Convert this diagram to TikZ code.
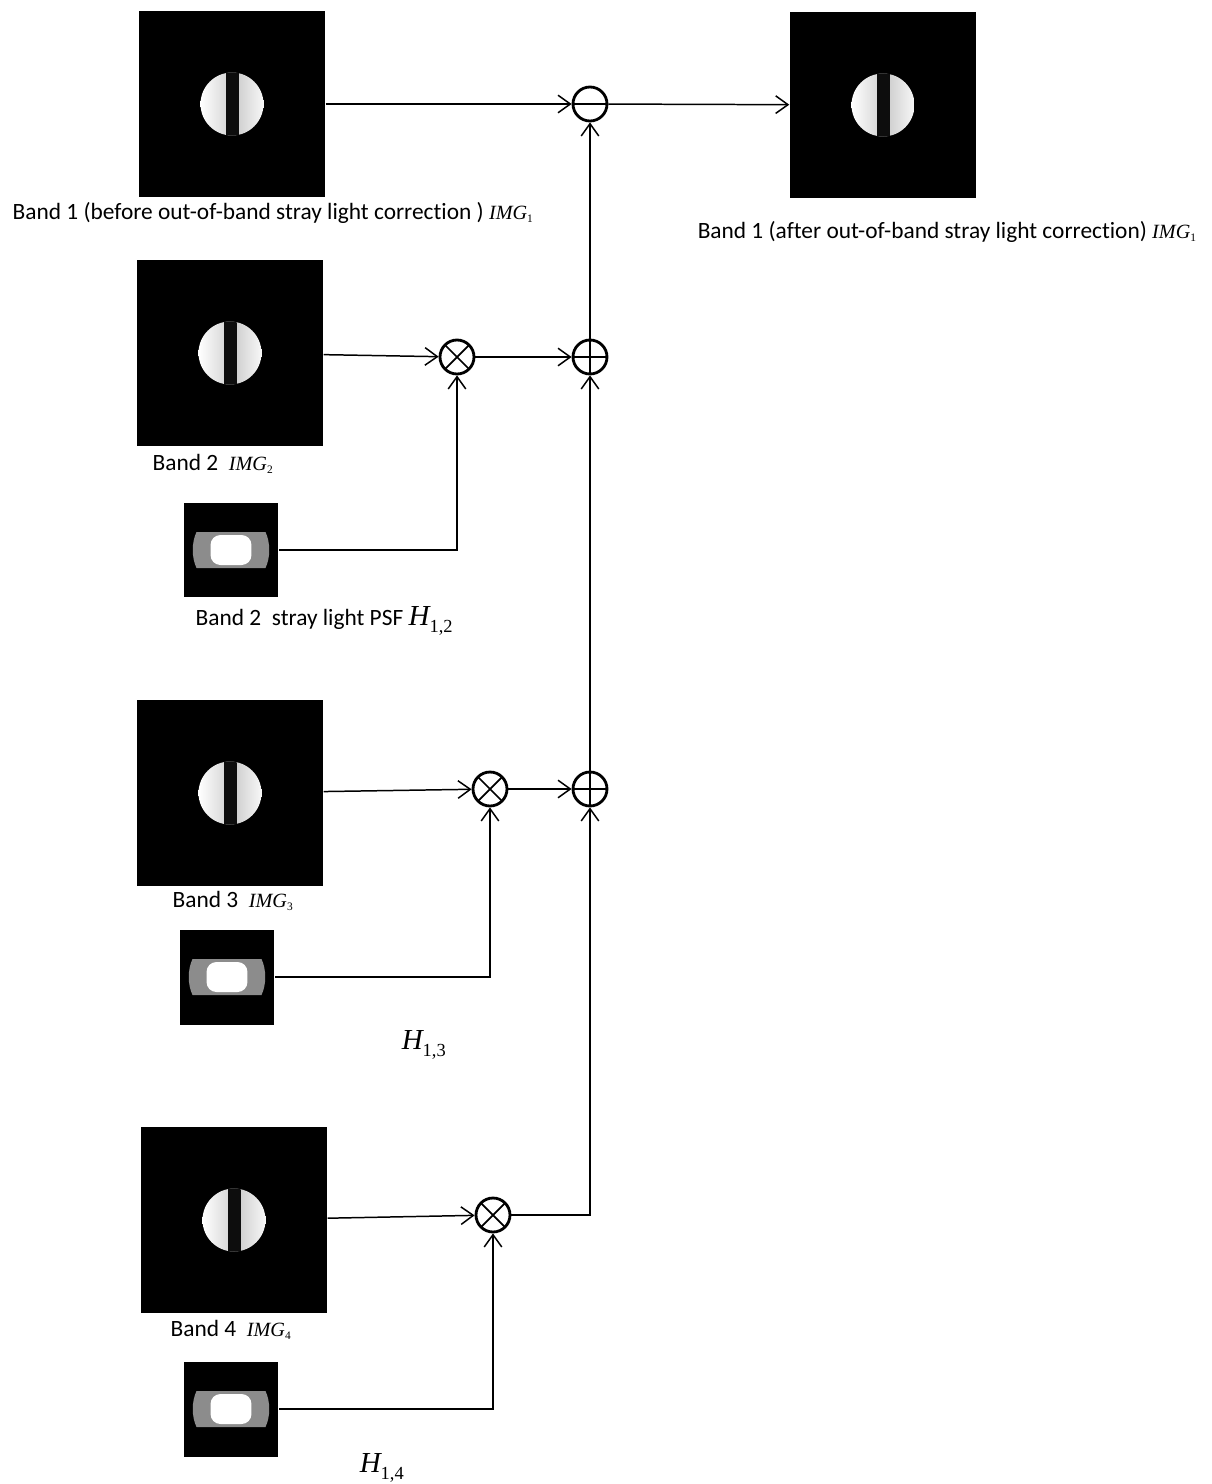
\documentclass[tikz,border=0pt]{standalone}
\usepackage{fontspec}
\setmainfont{Carlito}[Ligatures=NoCommon]
\newfontfamily\timesfont{Liberation Serif}
\usetikzlibrary{calc,arrows.meta}

\newcommand{\imgvar}[1]{{\timesfont\fontsize{11.5}{13}\selectfont\itshape IMG\raisebox{-0.35ex}{\fontsize{6.5}{7}\selectfont\upshape #1}}}
\newcommand{\hvar}[1]{{\timesfont\fontsize{16.5}{18}\selectfont\itshape H\raisebox{-0.5ex}{\fontsize{10.5}{12}\selectfont\upshape #1}}}

\tikzset{
  bandimg/.style={rectangle,fill=black,inner sep=0pt,minimum size=3.72cm,
    path picture={
      \coordinate (c) at (path picture bounding box.center);
      \begin{scope}
        \clip (c) circle (0.63cm);
        \shade[left color=white,right color=black!18] ($(c)+(-0.63cm,-0.63cm)$) rectangle ($(c)+(0cm,0.63cm)$);
        \shade[left color=black!22,right color=black!3] ($(c)+(0cm,-0.63cm)$) rectangle ($(c)+(0.63cm,0.63cm)$);
        \fill[black!95] ($(c)+(-0.13cm,-0.7cm)$) rectangle ($(c)+(0.13cm,0.7cm)$);
      \end{scope}
    }},
  psfimg/.style={rectangle,fill=black,inner sep=0pt,minimum size=1.9cm,
    path picture={
      \coordinate (c) at (path picture bounding box.center);
      \fill[black!45] ($(c)+(-0.69cm,0.36cm)$) -- ($(c)+(0.69cm,0.36cm)$)
        .. controls ($(c)+(0.79cm,0.15cm)$) and ($(c)+(0.79cm,-0.15cm)$) .. ($(c)+(0.69cm,-0.36cm)$)
        -- ($(c)+(-0.69cm,-0.36cm)$)
        .. controls ($(c)+(-0.79cm,-0.15cm)$) and ($(c)+(-0.79cm,0.15cm)$) .. cycle;
      \fill[white,rounded corners=0.2cm] ($(c)+(-0.41cm,-0.3cm)$) rectangle ($(c)+(0.41cm,0.3cm)$);
    }},
  op/.style={circle,draw,line width=1.6pt,minimum size=0.68cm,inner sep=0pt},
  opmul/.style={op,path picture={
      \draw[line width=1pt] (path picture bounding box.north west) -- (path picture bounding box.south east);
      \draw[line width=1pt] (path picture bounding box.south west) -- (path picture bounding box.north east);}},
  opadd/.style={op,path picture={
      \draw[line width=0.8pt] (path picture bounding box.north) -- (path picture bounding box.south);
      \draw[line width=0.8pt] (path picture bounding box.west) -- (path picture bounding box.east);}},
  opsub/.style={op,path picture={
      \draw[line width=0.8pt] (path picture bounding box.west) -- (path picture bounding box.east);}},
  lab/.style={anchor=west,inner sep=0pt,font=\fontsize{13.3}{15}\selectfont},
}

\begin{document}
\begin{tikzpicture}[x=0.02cm,y=0.02cm,line width=0.85pt,
    >={Straight Barb[length=7pt,width=10pt]}]
  \useasboundingbox (0,0) rectangle (1212,-1484);

  % images
  \node[bandimg] (img1) at (232,-104) {};
  \node[bandimg] (imgout) at (883,-105) {};
  \node[bandimg] (img2) at (230,-353) {};
  \node[psfimg] (psf2) at (231,-550) {};
  \node[bandimg] (img3) at (230,-793) {};
  \node[psfimg] (psf3) at (227,-977) {};
  \node[bandimg] (img4) at (234,-1220) {};
  \node[psfimg] (psf4) at (231,-1409) {};

  % operators
  \node[opsub] (sub) at (590,-104) {};
  \node[opadd] (add2) at (590,-357) {};
  \node[opadd] (add3) at (590,-789) {};
  \node[opmul] (mul2) at (457,-357) {};
  \node[opmul] (mul3) at (490,-789) {};
  \node[opmul] (mul4) at (493,-1215) {};

  % labels
  \node[lab] (lab1) at (12,-213) {Band 1 (before out-of-band stray light correction )\ \imgvar{1}};
  \node[lab] (labout) at (697,-232) {Band 1 (after out-of-band stray light correction)\ \imgvar{1}};
  \node[lab] (lab2) at (152,-464) {Band 2\ \ \imgvar{2}};
  \node[lab] (labpsf2) at (195,-621) {Band 2\ \ stray light PSF\ \hvar{1,2}};
  \node[lab] (lab3) at (172,-901) {Band 3\ \ \imgvar{3}};
  \node[lab] (labpsf3) at (401,-1045) {\hvar{1,3}};
  \node[lab] (lab4) at (170,-1330) {Band 4\ \ \imgvar{4}};
  \node[lab] (labpsf4) at (359,-1468) {\hvar{1,4}};

  % connections
  \draw[->] (img1) -- (sub);
  \draw[->] (sub) -- (imgout);
  \draw[->] (add2) -- (sub);
  \draw[->] (img2) -- (mul2);
  \draw[->] (mul2) -- (add2);
  \draw[->] (psf2) -| (mul2);
  \draw[->] (add3) -- (add2);
  \draw[->] (img3) -- (mul3);
  \draw[->] (mul3) -- (add3);
  \draw[->] (psf3) -| (mul3);
  \draw[->] (img4) -- (mul4);
  \draw[->] (mul4) -| (add3);
  \draw[->] (psf4) -| (mul4);
\end{tikzpicture}
\end{document}
